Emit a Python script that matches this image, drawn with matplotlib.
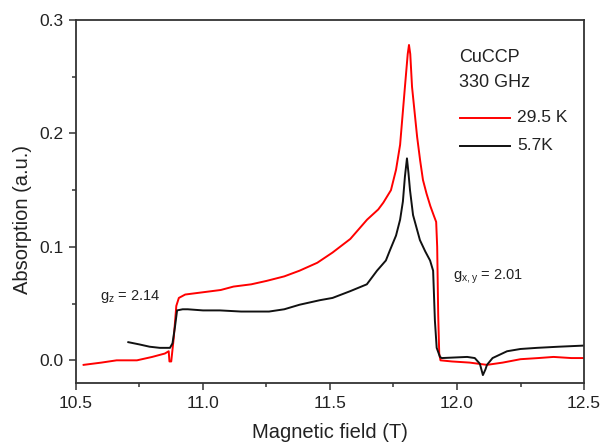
import numpy as np
import matplotlib
matplotlib.use('Agg')
import matplotlib.pyplot as plt

# EPR absorption of CuCCP at 330 GHz, two temperatures
field_hot = [10.53, 10.60, 10.66, 10.74, 10.80, 10.85, 10.865, 10.868, 10.875, 10.885,
             10.895, 10.905, 10.93, 11.00, 11.07, 11.12, 11.19, 11.25, 11.32, 11.38,
             11.45, 11.51, 11.58, 11.646, 11.69, 11.71, 11.74, 11.76, 11.776, 11.795,
             11.806, 11.811, 11.816, 11.823, 11.843, 11.855, 11.866, 11.88, 11.895, 11.908,
             11.918, 11.922, 11.926, 11.93, 11.935, 11.98, 12.05, 12.118, 12.18, 12.25,
             12.32, 12.38, 12.45, 12.50]
abs_hot = [-0.004, -0.002, 0.000, 0.000, 0.003, 0.006, 0.008, -0.001, -0.001, 0.020,
           0.048, 0.055, 0.058, 0.060, 0.062, 0.065, 0.067, 0.070, 0.074, 0.079,
           0.086, 0.095, 0.107, 0.124, 0.133, 0.139, 0.150, 0.168, 0.190, 0.241,
           0.270, 0.278, 0.270, 0.241, 0.197, 0.176, 0.159, 0.147, 0.136, 0.128,
           0.122, 0.100, 0.040, 0.006, 0.000, -0.001, -0.002, -0.004, -0.002, 0.001,
           0.002, 0.003, 0.002, 0.002]

field_cold = [10.706, 10.75, 10.79, 10.83, 10.87, 10.88, 10.89, 10.898, 10.92, 10.94,
              11.00, 11.067, 11.15, 11.26, 11.32, 11.38, 11.46, 11.51, 11.58, 11.645,
              11.685, 11.72, 11.736, 11.76, 11.776, 11.787, 11.795, 11.803, 11.809, 11.815,
              11.827, 11.854, 11.875, 11.894, 11.906, 11.913, 11.92, 11.933, 11.94, 12.04,
              12.07, 12.09, 12.102, 12.112, 12.118, 12.14, 12.197, 12.25, 12.315, 12.40,
              12.50]
abs_cold = [0.016, 0.014, 0.012, 0.011, 0.011, 0.015, 0.030, 0.044, 0.045, 0.045,
            0.044, 0.044, 0.043, 0.043, 0.045, 0.049, 0.053, 0.055, 0.061, 0.067,
            0.079, 0.088, 0.097, 0.110, 0.124, 0.140, 0.162, 0.178, 0.165, 0.150,
            0.128, 0.106, 0.096, 0.088, 0.079, 0.035, 0.011, 0.003, 0.002, 0.003,
            0.002, -0.003, -0.013, -0.008, -0.004, 0.002, 0.008, 0.010, 0.011, 0.012,
            0.013]

series_labels = ['29.5 K', '5.7K']
x_ticks = [10.5, 11.0, 11.5, 12.0, 12.5]
y_ticks = [0.0, 0.1, 0.2, 0.3]

plt.rcParams['font.family'] = ['Liberation Sans', 'DejaVu Sans']
plt.rcParams['mathtext.fontset'] = 'custom'
plt.rcParams['mathtext.rm'] = 'Liberation Sans'

fig = plt.figure(figsize=(6.03, 4.43), dpi=100)
ax = fig.add_axes([0.126, 0.1354, 0.8425, 0.8195])

ax.plot(field_hot, abs_hot, color='#ff0000', lw=1.4)
ax.plot(field_cold, abs_cold, color='#111111', lw=1.4)

ax.set_xlim(10.5, 12.5)
ax.set_ylim(-0.02, 0.3)
ax.set_xticks(x_ticks)
ax.set_yticks(y_ticks)
ax.set_xticks(np.arange(10.75, 12.5, 0.5), minor=True)
ax.set_yticks([0.05, 0.15, 0.25], minor=True)
ax.tick_params(which='major', direction='out', length=5, width=1.1, labelsize=12.5,
               colors='#333333', labelcolor='#222222', pad=4)
ax.tick_params(which='minor', direction='out', length=3, width=1.1, colors='#333333')
for s in ax.spines.values():
    s.set_linewidth(1.3)
    s.set_color('#333333')

ax.set_xlabel('Magnetic field (T)', fontsize=14.5, color='#222222')
ax.set_ylabel('Absorption (a.u.)', fontsize=14.5, color='#222222')
ax.xaxis.set_label_coords(0.5, -0.135)
ax.xaxis.label.set_va('center')
ax.yaxis.set_label_coords(-0.106, 0.45)
ax.yaxis.label.set_va('center')

ax.text(12.008, 0.2665, 'CuCCP', fontsize=13, va='center', color='#222222')
ax.text(12.008, 0.2445, '330 GHz', fontsize=13, va='center', color='#222222')

# hand-drawn style legend
leg_y = [0.2136, 0.189]
leg_col = ['#ff0000', '#111111']
for yy, c, lab in zip(leg_y, leg_col, series_labels):
    ax.plot([12.01, 12.21], [yy, yy], color=c, lw=1.4)
    ax.text(12.236, yy, lab, fontsize=12.5, va='center', color='#222222')

ax.text(10.594, 0.0565, r'$\mathregular{g_z}$ = 2.14', fontsize=10.5, va='center', color='#222222')
ax.text(11.984, 0.074, r'$\mathregular{g_{x,y}}$ = 2.01', fontsize=10.5, va='center', color='#222222')

fig.savefig('out.png', dpi=100)
